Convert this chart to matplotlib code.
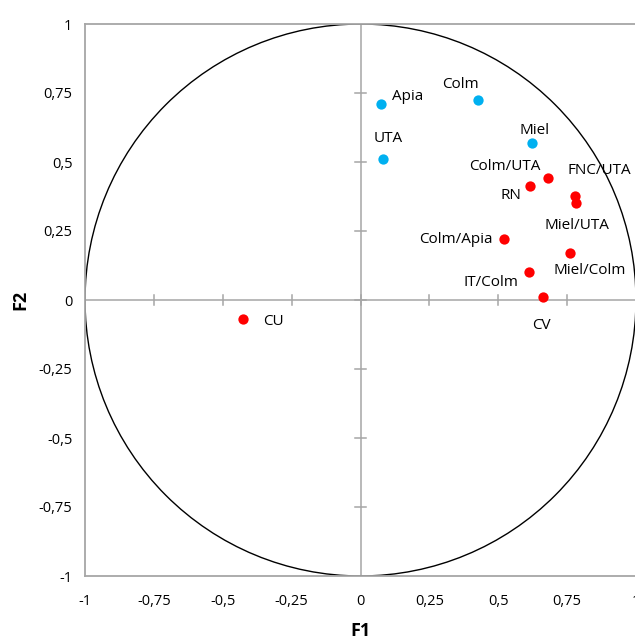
import numpy as np
import matplotlib
matplotlib.use("Agg")
import matplotlib.pyplot as plt
from matplotlib.patches import Circle

plt.rcParams['font.family'] = ['Open Sans', 'DejaVu Sans']

# Correlation circle: variables on the first two factors
blue_names = ["Apia", "Colm", "Miel", "UTA"]
blue_f1 = [0.076, 0.428, 0.624, 0.080]
blue_f2 = [0.710, 0.725, 0.568, 0.511]

red_names = ["Colm/UTA", "RN", "FNC/UTA", "Miel/UTA", "Colm/Apia",
             "Miel/Colm", "IT/Colm", "CV", "CU"]
red_f1 = [0.682, 0.616, 0.780, 0.782, 0.521, 0.759, 0.613, 0.663, -0.427]
red_f2 = [0.443, 0.414, 0.377, 0.350, 0.222, 0.169, 0.101, 0.011, -0.069]

tick_values = [-1, -0.75, -0.5, -0.25, 0, 0.25, 0.5, 0.75, 1]
tick_labels = ["-1", "-0,75", "-0,5", "-0,25", "0", "0,25", "0,5", "0,75", "1"]

# label offsets in points (dx, dy)
blue_offsets = [(18.5, 5.3), (-12.7, 10.8), (1.7, 8.9), (4.1, 14.4)]
red_offsets = [(-31.5, 8.4), (-13.7, -6.7), (17.3, 18.0), (0.5, -16.1),
               (-34.6, -0.9), (14.4, -12.5), (-27.4, -7.7), (-0.9, -20.2),
               (21.8, -1.9)]

BLUE = "#00B0F0"
RED = "#FF0000"
GREY = "#A6A6A6"

fig = plt.figure(figsize=(6.35, 6.41), dpi=100)
ax = fig.add_axes([85 / 635, 65 / 641, 551 / 635, 552 / 641])
ax.set_xlim(-1, 1)
ax.set_ylim(-1, 1)

for s in ax.spines.values():
    s.set_color(GREY)
    s.set_linewidth(1.3)

# centre axes with cross ticks
ax.axhline(0, color=GREY, lw=1.1, zorder=1)
ax.axvline(0, color=GREY, lw=1.1, zorder=1)
dx = 5 / 275
dy = 5 / 276
for t in tick_values[1:-1]:
    ax.plot([t, t], [-dy, dy], color=GREY, lw=1.1, zorder=1)
    ax.plot([-dx, dx], [t, t], color=GREY, lw=1.1, zorder=1)

ax.add_patch(Circle((0, 0), 1, fill=False, ec="black", lw=1.0, zorder=2))

ax.scatter(blue_f1, blue_f2, s=55, color=BLUE, zorder=3, linewidths=0)
ax.scatter(red_f1, red_f2, s=55, color=RED, zorder=3, linewidths=0)

for name, x, y, off in zip(blue_names, blue_f1, blue_f2, blue_offsets):
    ax.annotate(name, (x, y), xytext=off, textcoords="offset points",
                ha="center", va="center", fontsize=11, color="black")
for name, x, y, off in zip(red_names, red_f1, red_f2, red_offsets):
    ax.annotate(name, (x, y), xytext=off, textcoords="offset points",
                ha="center", va="center", fontsize=11, color="black")

ax.set_xticks(tick_values)
ax.set_xticklabels(tick_labels)
ax.set_yticks(tick_values)
ax.set_yticklabels(tick_labels)
ax.tick_params(axis="x", length=0, pad=13, labelsize=10.5)
ax.tick_params(axis="y", length=0, pad=9, labelsize=10.5)

ax.set_xlabel("F1", fontsize=13, fontweight="bold", labelpad=9)
ax.set_ylabel("F2", fontsize=13, fontweight="bold", labelpad=7)

fig.savefig("out.png", dpi=100)
